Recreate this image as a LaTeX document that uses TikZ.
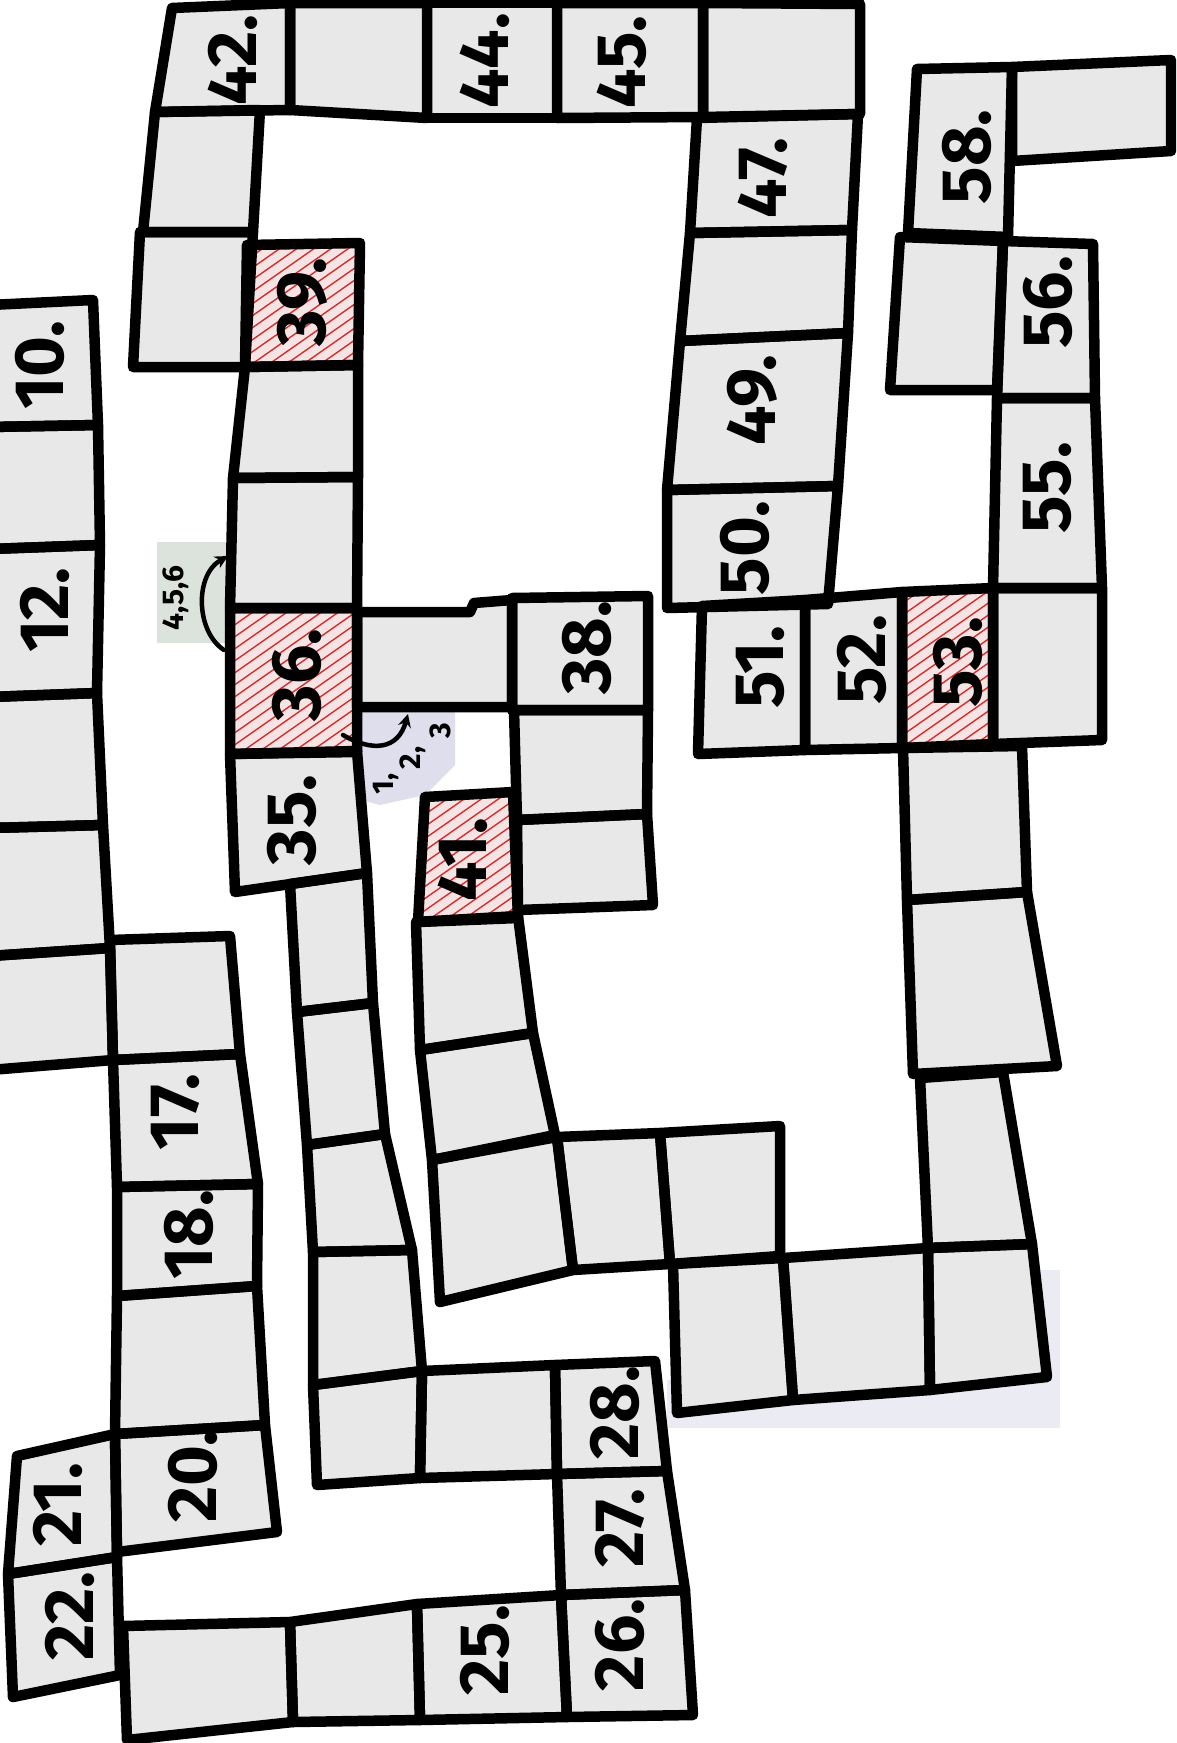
\documentclass[tikz,border=0pt]{standalone}
\usepackage{fontspec}
\setmainfont{Fira Sans}
\usetikzlibrary{arrows.meta}
\definecolor{cellfill}{RGB}{232,232,232}
\definecolor{hatchbg}{RGB}{246,228,228}
\definecolor{hatchred}{RGB}{212,45,45}
\definecolor{paper}{RGB}{220,226,220}
\definecolor{paperblue}{RGB}{222,222,236}
\tikzset{
  border/.style={draw=black, line width=10.5pt, line join=round, line cap=round},
  num/.style={font=\fontsize{70}{70}\selectfont\bfseries, rotate=90, inner sep=0pt},
  smalllab/.style={font=\fontsize{30}{30}\selectfont\bfseries, inner sep=0pt, rotate=90},
  hatchline/.style={draw=hatchred, line width=1.4pt},
  turnarrow/.style={line width=4.5pt, line cap=round, -{Stealth[length=13pt,width=13pt]}},
}
\newcommand\mycellfill[1]{\fill[cellfill] #1;}
\newcommand\mycelldraw[1]{\draw[border] #1;}
\newcommand\myhatchfill[2]{%
  \fill[hatchbg] #1;
  \begin{scope}
    \clip #1;
    \foreach \k in {-240,-228,...,240}{\draw[hatchline,shift={#2}] (-130,\k+91) -- (130,\k-91);}
  \end{scope}}
\newcommand\myhatchdraw[2]{\draw[border] #1;}
\newcommand\normalcells[1]{%
  #1{(-10,305) -- (93,300) -- (98,425) -- (-10,427) -- cycle}%
  #1{(-10,427) -- (98,425) -- (100,545) -- (-10,549) -- cycle}%
  #1{(-10,549) -- (100,545) -- (97,693) -- (-10,697) -- cycle}%
  #1{(-10,697) -- (97,693) -- (103,825) -- (-10,828) -- cycle}%
  #1{(-10,828) -- (103,825) -- (110,948) -- (-10,956) -- cycle}%
  #1{(-10,956) -- (110,948) -- (113,1060) -- (-10,1070) -- cycle}%
  #1{(110,940) -- (230,936) -- (240,1054) -- (113,1060) -- cycle}%
  #1{(113,1060) -- (240,1054) -- (258,1184) -- (117,1187) -- cycle}%
  #1{(117,1187) -- (258,1184) -- (257,1286) -- (117,1296) -- cycle}%
  #1{(117,1296) -- (257,1286) -- (265,1425) -- (115,1434) -- cycle}%
  #1{(115,1434) -- (265,1425) -- (277,1532) -- (117,1552) -- cycle}%
  #1{(17,1456) -- (115,1434) -- (117,1557) -- (8,1574) -- cycle}%
  #1{(8,1574) -- (117,1557) -- (120,1675) -- (13,1697) -- cycle}%
  #1{(123,1626) -- (290,1622) -- (293,1722) -- (127,1740) -- cycle}%
  #1{(290,1622) -- (417,1604) -- (420,1720) -- (293,1722) -- cycle}%
  #1{(417,1604) -- (561,1595) -- (567,1717) -- (420,1720) -- cycle}%
  #1{(561,1595) -- (685,1590) -- (693,1715) -- (567,1717) -- cycle}%
  #1{(557,1474) -- (667,1471) -- (685,1590) -- (561,1595) -- cycle}%
  #1{(555,1365) -- (655,1361) -- (667,1471) -- (557,1474) -- cycle}%
  #1{(422,1371) -- (555,1365) -- (557,1474) -- (420,1478) -- cycle}%
  #1{(313,1385) -- (422,1371) -- (420,1478) -- (317,1485) -- cycle}%
  #1{(313,1252) -- (412,1250) -- (422,1371) -- (313,1385) -- cycle}%
  #1{(307,1145) -- (385,1134) -- (412,1250) -- (313,1252) -- cycle}%
  #1{(297,1012) -- (373,1003) -- (385,1134) -- (307,1145) -- cycle}%
  #1{(290,884) -- (367,873) -- (373,1003) -- (297,1012) -- cycle}%
  #1{(230,754) -- (357,751) -- (367,873) -- (235,892) -- cycle}%
  #1{(233,478) -- (358,477) -- (357,608) -- (230,608) -- cycle}%
  #1{(245,367) -- (358,365) -- (358,477) -- (233,478) -- cycle}%
  #1{(140,232) -- (253,232) -- (245,367) -- (133,367) -- cycle}%
  #1{(155,112) -- (260,110) -- (253,232) -- (143,232) -- cycle}%
  #1{(172,8) -- (290,3) -- (290,110) -- (155,112) -- cycle}%
  #1{(290,3) -- (427,3) -- (427,118) -- (290,110) -- cycle}%
  #1{(427,3) -- (557,3) -- (557,118) -- (427,118) -- cycle}%
  #1{(557,3) -- (703,3) -- (703,117) -- (557,118) -- cycle}%
  #1{(703,3) -- (860,4) -- (860,114) -- (703,117) -- cycle}%
  #1{(697,118) -- (858,114) -- (852,230) -- (690,233) -- cycle}%
  #1{(690,233) -- (852,230) -- (848,333) -- (680,341) -- cycle}%
  #1{(680,341) -- (848,333) -- (838,486) -- (667,490) -- cycle}%
  #1{(667,490) -- (838,486) -- (828,604) -- (667,608) -- cycle}%
  #1{(702,606) -- (805,600) -- (805,750) -- (698,754) -- cycle}%
  #1{(805,600) -- (902,592) -- (902,748) -- (805,750) -- cycle}%
  #1{(993,588) -- (1102,588) -- (1102,740) -- (993,744) -- cycle}%
  #1{(997,398) -- (1095,398) -- (1102,588) -- (993,588) -- cycle}%
  #1{(1003,241) -- (1093,244) -- (1095,398) -- (997,398) -- cycle}%
  #1{(900,237) -- (1003,241) -- (997,390) -- (890,390) -- cycle}%
  #1{(917,69) -- (1012,67) -- (1008,237) -- (908,233) -- cycle}%
  #1{(1012,67) -- (1171,60) -- (1171,151) -- (1012,161) -- cycle}%
  #1{(357,612) -- (470,612) -- (474,603) -- (512,600) -- (512,707) -- (357,707) -- cycle}%
  #1{(512,598) -- (648,596) -- (648,710) -- (512,710) -- cycle}%
  #1{(514,710) -- (648,710) -- (647,814) -- (517,820) -- cycle}%
  #1{(517,820) -- (647,814) -- (653,905) -- (518,910) -- cycle}%
  #1{(416,922) -- (518,916) -- (533,1033) -- (420,1050) -- cycle}%
  #1{(420,1050) -- (533,1033) -- (555,1135) -- (432,1160) -- cycle}%
  #1{(432,1160) -- (557,1137) -- (573,1270) -- (440,1302) -- cycle}%
  #1{(557,1137) -- (660,1133) -- (670,1264) -- (573,1270) -- cycle}%
  #1{(660,1133) -- (780,1126) -- (780,1256) -- (670,1264) -- cycle}%
  #1{(673,1264) -- (783,1258) -- (793,1400) -- (677,1413) -- cycle}%
  #1{(783,1258) -- (928,1248) -- (930,1390) -- (793,1400) -- cycle}%
  #1{(928,1248) -- (1032,1244) -- (1047,1377) -- (930,1390) -- cycle}%
  #1{(920,1078) -- (1003,1072) -- (1032,1244) -- (928,1248) -- cycle}%
  #1{(907,900) -- (1027,892) -- (1057,1066) -- (913,1074) -- cycle}%
  #1{(903,748) -- (1022,746) -- (1027,892) -- (907,900) -- cycle}%
}
\newcommand\hatchedcells[1]{%
  #1{(230,608) -- (357,608) -- (357,752) -- (230,754) -- cycle}{(293,680)}%
  #1{(247,245) -- (360,243) -- (358,365) -- (245,367) -- cycle}{(302,305)}%
  #1{(425,797) -- (513,792) -- (518,918) -- (418,922) -- cycle}{(467,857)}%
  #1{(902,592) -- (993,588) -- (993,744) -- (902,748) -- cycle}{(947,668)}%
}
\begin{document}
\begin{tikzpicture}[x=1pt,y=-1pt]
  \useasboundingbox (0,0) rectangle (1176,1743);
  \clip (0,0) rectangle (1176,1743);
  \fill[white] (0,0) rectangle (1176,1743);
  % scanned paper patches
  \fill[paper] (157,542) rectangle (232,643);
  \fill[paperblue] (350,712) -- (455,712) -- (455,765) -- (425,795) -- (380,805) -- (350,797) -- cycle;
  \fill[paperblue!60!white] (667,1380) rectangle (1060,1428);
  \fill[paperblue!60!white] (1030,1270) rectangle (1060,1428);
  % cells
  \normalcells\mycellfill
  \hatchedcells\myhatchfill
  \normalcells\mycelldraw
  \hatchedcells\myhatchdraw
  % numbers
  \node[num] (n10) at (40,365) {10.};
  \node[num] (n12) at (45,610) {12.};
  \node[num] (n17) at (175,1112) {17.};
  \node[num] (n18) at (189,1235) {18.};
  \node[num] (n20) at (193,1476) {20.};
  \node[num] (n21) at (58,1505) {21.};
  \node[num] (n22) at (70,1616) {22.};
  \node[num] (n25) at (485,1650) {25.};
  \node[num] (n26) at (620,1645) {26.};
  \node[num] (n27) at (620,1528) {27.};
  \node[num] (n28) at (615,1413) {28.};
  \node[num] (n35) at (292,820) {35.};
  \node[num] (n36) at (297,675) {36.};
  \node[num] (n38) at (587,648) {38.};
  \node[num] (n39) at (302,302) {39.};
  \node[num] (n41) at (463,860) {41.};
  \node[num] (n42) at (233,60) {42.};
  \node[num] (n44) at (485,61) {44.};
  \node[num] (n45) at (622,62) {45.};
  \node[num] (n47) at (763,178) {47.};
  \node[num] (n49) at (752,400) {49.};
  \node[num] (n50) at (745,548) {50.};
  \node[num] (n51) at (760,667) {51.};
  \node[num] (n52) at (862,660) {52.};
  \node[num] (n53) at (958,662) {53.};
  \node[num] (n55) at (1047,488) {55.};
  \node[num] (n56) at (1048,302) {56.};
  \node[num] (n58) at (967,157) {58.};
  % branch labels and arrows
  \node[smalllab] (up) at (176,598) {4,5,6};
  \node[smalllab] (r1) at (386,784) {1,};
  \node[smalllab] (r2) at (413,758) {2,};
  \node[smalllab] (r3) at (440,731) {3};
  \coordinate (s1) at (224,650);
  \coordinate (e1) at (228,556);
  \coordinate (s2) at (343,735);
  \coordinate (e2) at (408,714);
  \draw[turnarrow] (s1) .. controls (196,632) and (194,575) .. (e1);
  \draw[turnarrow] (s2) .. controls (372,752) and (398,750) .. (e2);
\end{tikzpicture}
\end{document}
